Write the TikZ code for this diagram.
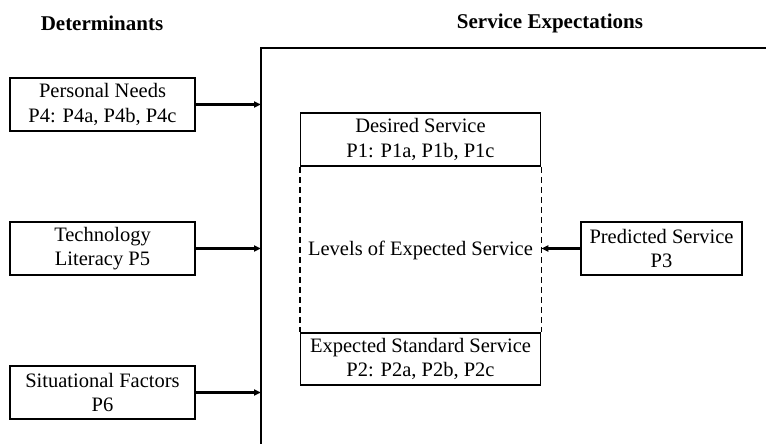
\documentclass[tikz,border=0pt]{standalone}
\usepackage{fontspec}
\setmainfont{Liberation Serif}
\usetikzlibrary{arrows.meta,positioning}
\begin{document}
\begin{tikzpicture}[
        x=1pt,y=1pt,
        box/.style={draw,line width=1.6pt,inner sep=0pt,align=center,
            minimum height=53pt,font=\fontsize{20.5}{24.5}\selectfont},
        detbox/.style={box,minimum width=185pt},
        servbox/.style={box,minimum width=240pt},
        heading/.style={font=\fontsize{21}{25}\selectfont\bfseries},
        feed/.style={line width=2.2pt,-{Triangle[length=7pt,width=6pt]}},
        ]
    \useasboundingbox (0,0) rectangle (766,444);
    % headings
    \node[heading] (dethead) at (102,421) {Determinants};
    \node[heading] (servhead) at (550,421) {Service Expectations};
    % open frame
    \coordinate (frametl) at (261,396);
    \draw[line width=1.6pt] (261,0) -- (frametl) -- (766,396);
    % determinants
    \node[detbox] (pn) at (102.5,339.5) {Personal Needs\\P4: P4a, P4b, P4c};
    \node[detbox] (tl) at (102.5,195.5) {Technology\\Literacy P5};
    \node[detbox] (sf) at (102.5,51.5) {Situational Factors\\P6};
    % service levels
    \node[servbox] (ds) at (420.5,304.5) {Desired Service\\P1: P1a, P1b, P1c};
    \node[servbox,minimum height=52pt] (es) at (420.5,85) {Expected Standard Service\\P2: P2a, P2b, P2c};
    \node[inner sep=0pt,minimum width=240pt,font=\fontsize{20.5}{24.5}\selectfont] (lev) at (420.5,194) {Levels of Expected Service};
    \draw[line width=1.6pt,dash pattern=on 6pt off 4pt] (ds.south west) -- (es.north west);
    \draw[line width=1.6pt,dash pattern=on 6pt off 4pt] (ds.south east) -- (es.north east);
    \node[box,minimum width=161pt] (ps) at (661.5,195.5) {Predicted Service\\P3};
    % connectors
    \draw[feed] (pn.east) -- (pn.east -| frametl);
    \draw[feed] (tl.east) -- (tl.east -| frametl);
    \draw[feed] (sf.east) -- (sf.east -| frametl);
    \draw[feed] (ps.west) -- (ps.west -| ds.east);
\end{tikzpicture}
\end{document}
